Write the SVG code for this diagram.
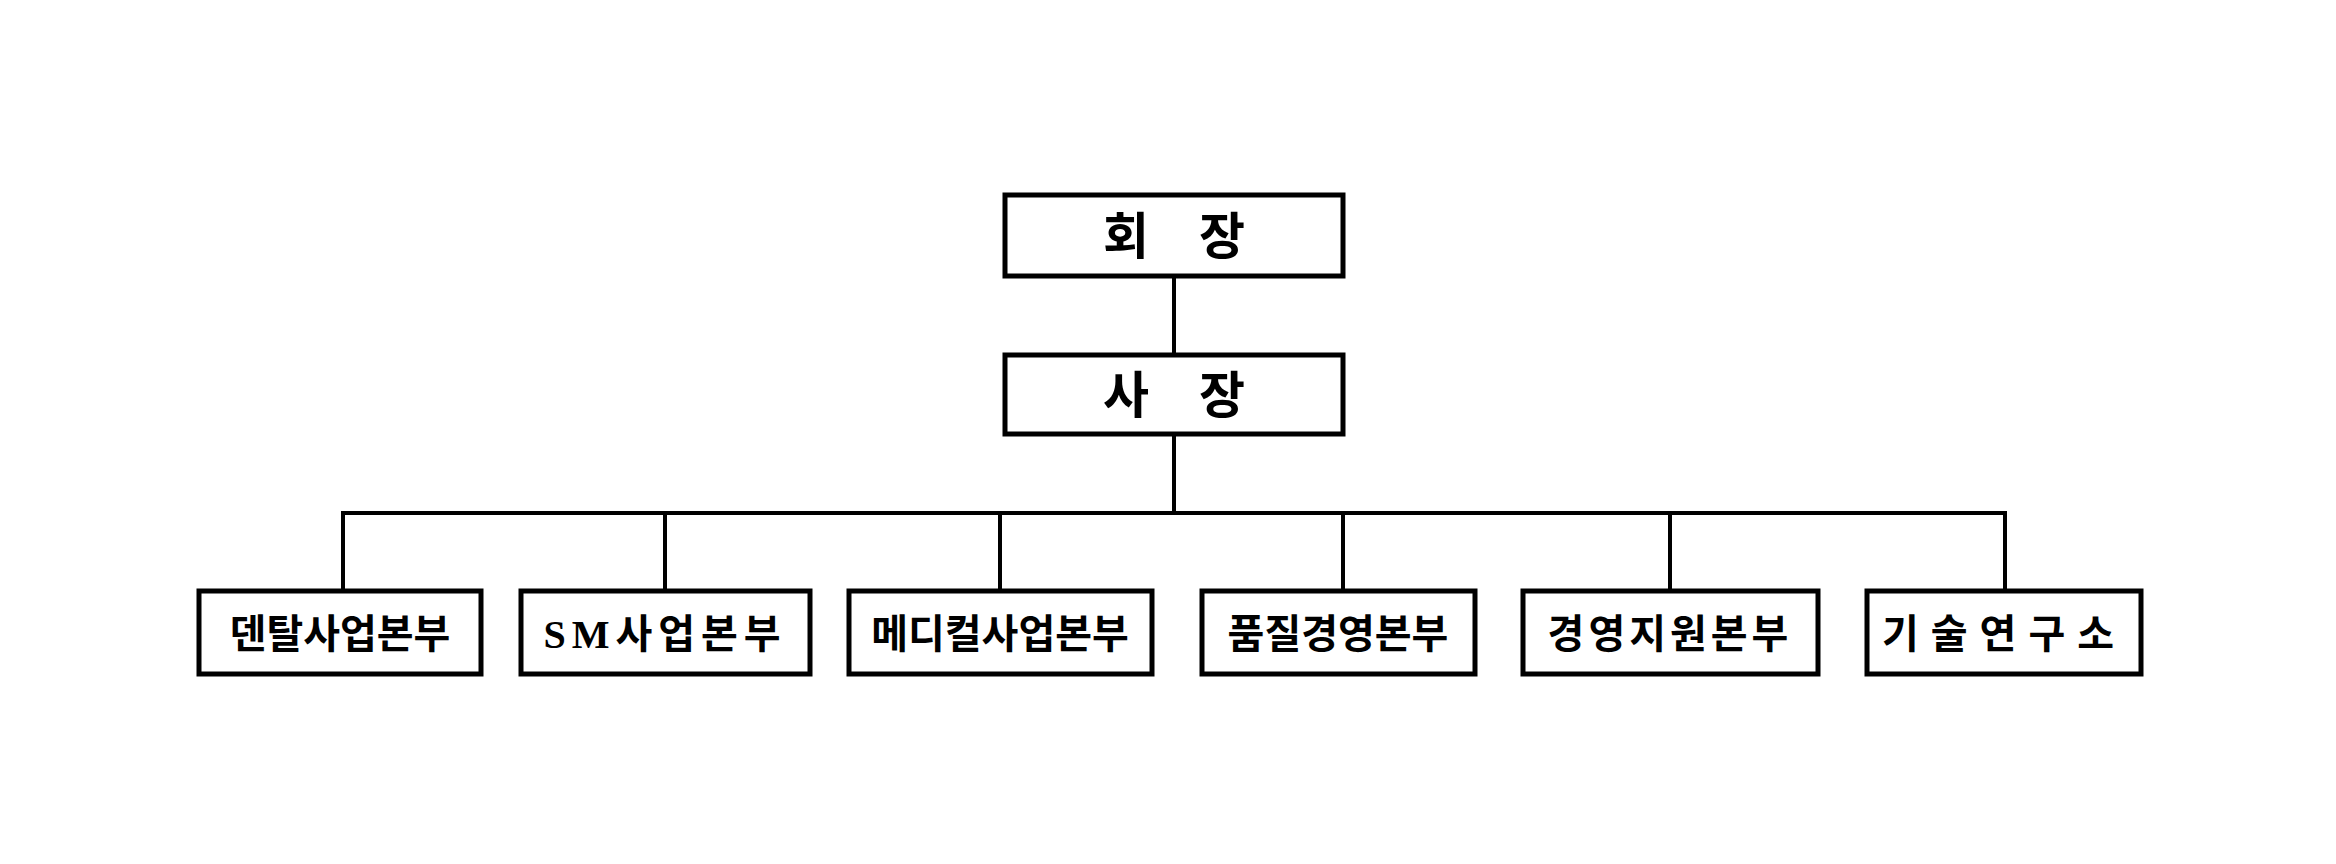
<svg xmlns="http://www.w3.org/2000/svg" width="2336" height="864" viewBox="0 0 2336 864">
<style>
rect{fill:#fff;stroke:#000;stroke-width:5}
.c line{stroke:#000;stroke-width:4}
text{font-family:"Liberation Serif","Noto Sans CJK KR",serif;font-weight:bold;text-anchor:middle;dominant-baseline:central;fill:#000}
.t{font-size:50px}
.s{font-size:40px}
</style>
<rect width="2336" height="864" style="stroke:none"/>
<g class="c">
<line x1="1174" y1="276" x2="1174" y2="355"/>
<line x1="1174" y1="434" x2="1174" y2="513"/>
<line x1="341" y1="513" x2="2007" y2="513"/>
<line x1="343" y1="513" x2="343" y2="591"/>
<line x1="665" y1="513" x2="665" y2="591"/>
<line x1="1000" y1="513" x2="1000" y2="591"/>
<line x1="1343" y1="513" x2="1343" y2="591"/>
<line x1="1670" y1="513" x2="1670" y2="591"/>
<line x1="2005" y1="513" x2="2005" y2="591"/>
</g>
<g id="n1"><rect x="1005" y="195" width="338" height="81"/><text class="t" x="1174" y="237" xml:space="preserve">회    장</text></g>
<g id="n2"><rect x="1005" y="355" width="338" height="79"/><text class="t" x="1174" y="396" xml:space="preserve">사    장</text></g>
<g id="n3"><rect x="199" y="591" width="282" height="83"/><text class="s" x="340" y="634">덴탈사업본부</text></g>
<g id="n4"><rect x="521" y="591" width="289" height="83"/><text class="s" x="665" y="634" letter-spacing="6">SM사업본부</text></g>
<g id="n5"><rect x="849" y="591" width="303" height="83"/><text class="s" x="1000" y="634">메디컬사업본부</text></g>
<g id="n6"><rect x="1202" y="591" width="273" height="83"/><text class="s" x="1338" y="634">품질경영본부</text></g>
<g id="n7"><rect x="1523" y="591" width="295" height="83"/><text class="s" x="1670" y="634" letter-spacing="4">경영지원본부</text></g>
<g id="n8"><rect x="1867" y="591" width="274" height="83"/><text class="s" x="2004" y="634" letter-spacing="12">기술연구소</text></g>
</svg>
